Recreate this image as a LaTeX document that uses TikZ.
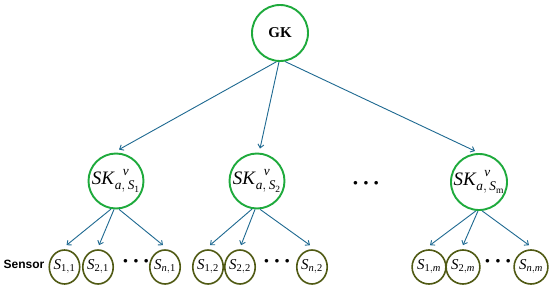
\documentclass[tikz,border=0pt]{standalone}
\usepackage{amsmath}
\usepackage{fontspec}
\setmainfont{Liberation Serif}
\setsansfont{Liberation Sans}
\usetikzlibrary{arrows.meta,shapes.geometric,calc}
\definecolor{cgreen}{RGB}{30,170,60}
\definecolor{colive}{RGB}{80,90,20}
\definecolor{carrow}{RGB}{30,105,145}
\newcommand{\skl}[1]{\textit{SK}$^{\hspace{8pt}\text{\raisebox{3pt}{\textit{v}}}}_{\textit{a},\,\textit{S}_{\text{#1}}}$}
\newcommand{\snl}[2]{\textit{S}$_{#1,#2}$}
\newcommand{\tdots}{\textperiodcentered\hspace{3pt}\textperiodcentered\hspace{3pt}\textperiodcentered}
\begin{document}
\begin{tikzpicture}[x=1pt,y=-1pt,
  topnode/.style={circle,draw=cgreen,line width=1.9pt,minimum size=56pt,inner sep=0pt,font=\fontsize{15}{15}\selectfont\bfseries},
  sknode/.style={circle,draw=cgreen,line width=1.9pt,minimum size=55pt,inner sep=0pt,font=\fontsize{19}{19}\selectfont},
  snode/.style={ellipse,draw=colive,line width=1.6pt,minimum width=27pt,minimum height=34pt,inner sep=0pt,font=\fontsize{15}{15}\selectfont},
  arr/.style={draw=carrow,line width=0.9pt,-{Straight Barb[length=3.5pt,width=6pt]}},
  dotsnode/.style={inner sep=0pt,font=\fontsize{22}{22}\selectfont\bfseries}]
\fill[white] (0,0) rectangle (550,289);
\useasboundingbox (0,0) rectangle (550,289);

\node[topnode] (GK) at (280,33) {GK};
\node[sknode] (SK1) at (116,181) {\skl{1}};
\node[sknode] (SK2) at (257,181) {\skl{2}};
\node[sknode] (SK3) at (479,182) {\skl{m}};
\node[dotsnode] (d0) at (366,186) {\tdots};

\node[snode] (S11) at (64.5,267) {\snl{\text{1}}{\text{1}}};
\node[snode] (S21) at (98,267) {\snl{\text{2}}{\text{1}}};
\node[snode] (Sn1) at (165,267) {\snl{\textit{n}}{\text{1}}};
\node[snode] (S12) at (208,267) {\snl{\text{1}}{\text{2}}};
\node[snode] (S22) at (240,267) {\snl{\text{2}}{\text{2}}};
\node[snode] (Sn2) at (312,267) {\snl{\textit{n}}{\text{2}}};
\node[snode] (S1m) at (429,267) {\snl{\text{1}}{\textit{m}}};
\node[snode] (S2m) at (463,267) {\snl{\text{2}}{\textit{m}}};
\node[snode] (Snm) at (531,267) {\snl{\textit{n}}{\textit{m}}};

\node[dotsnode] (d1) at (136,264) {\tdots};
\node[dotsnode] (d2) at (277,264) {\tdots};
\node[dotsnode] (d3) at (498,264) {\tdots};

\node[font=\fontsize{12}{12}\sffamily\bfseries,inner sep=0pt] (lab) at (24,264) {Sensor};

\draw[arr] (GK.263) -- ([xshift=3pt,yshift=3pt]SK1.north);
\draw[arr] (GK.268) -- ([xshift=3pt,yshift=4pt]SK2.north);
\draw[arr] (GK.280) -- ([xshift=-4pt,yshift=2pt]SK3.north);

\draw[arr] (SK1.260) -- ([xshift=2pt,yshift=4pt]S11.north);
\draw[arr] (SK1.266) -- ([xshift=1pt,yshift=4pt]S21.north);
\draw[arr] (SK1.276) -- ([xshift=-2pt,yshift=4pt]Sn1.north);
\draw[arr] (SK2.260) -- ([xshift=2pt,yshift=4pt]S12.north);
\draw[arr] (SK2.266) -- ([xshift=1pt,yshift=4pt]S22.north);
\draw[arr] (SK2.276) -- ([xshift=-2pt,yshift=4pt]Sn2.north);
\draw[arr] (SK3.264) -- ([xshift=1pt,yshift=4pt]S1m.north);
\draw[arr] (SK3.268) -- ([xshift=0pt,yshift=4pt]S2m.north);
\draw[arr] (SK3.276) -- ([xshift=-2pt,yshift=4pt]Snm.north);
\end{tikzpicture}
\end{document}
